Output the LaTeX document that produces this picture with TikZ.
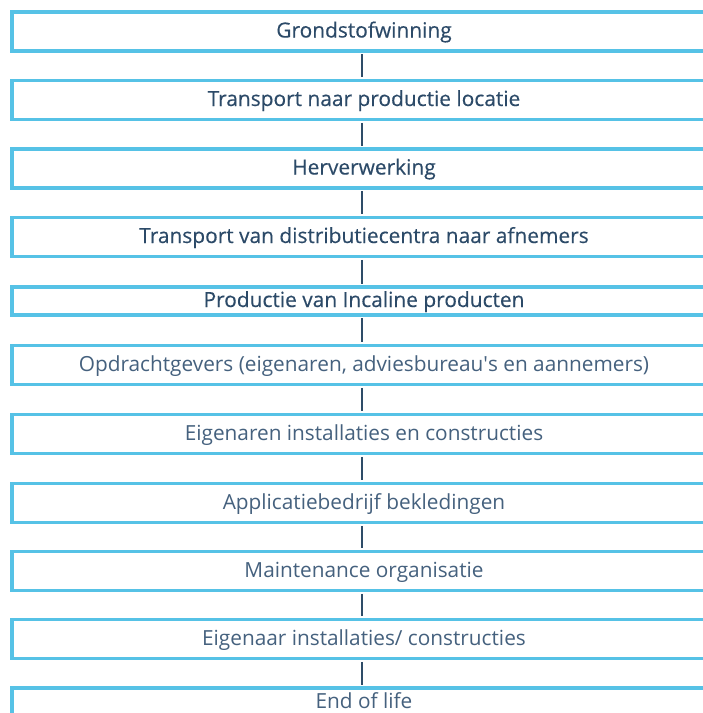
\documentclass[tikz,border=0pt]{standalone}
\usepackage{fontspec}
\setmainfont{Open Sans}
\newfontfamily\boldish[FakeBold=0.3]{Open Sans}
\definecolor{boxblue}{HTML}{56C2E6}
\definecolor{darktxt}{HTML}{2C4A68}
\definecolor{lighttxt}{HTML}{45617E}
\definecolor{linecol}{HTML}{2E4C68}
\begin{document}
\begin{tikzpicture}[x=1pt,y=-1pt,
  stage/.style={draw=boxblue,line width=3.3pt,fill=white,rectangle,
    minimum width=704pt,minimum height=39pt,inner sep=0pt,
    text height=15pt,text depth=3pt,
    font=\fontsize{20.8}{23}\selectfont,text=lighttxt},
  strong/.style={text=darktxt,font=\fontsize{20.9}{23}\selectfont\boldish},
  short/.style={minimum height=28pt},
  link/.style={draw=linecol,line width=2.2pt}]
\useasboundingbox (0,0) rectangle (703,713);
\clip (0,0) rectangle (703,713);
\node[stage,strong] (b1) at (364,31.5) {Grondstofwinning};
\node[stage,strong] (b2) at (364,100) {Transport naar productie locatie};
\node[stage,strong] (b3) at (364,168.5) {Herverwerking};
\node[stage,strong] (b4) at (364,237) {Transport van distributiecentra naar afnemers};
\node[stage,strong,short] (b5) at (364,301) {Productie van Incaline producten};
\node[stage] (b6) at (364,365) {Opdrachtgevers (eigenaren, adviesbureau\textquotesingle s en aannemers)};
\node[stage] (b7) at (364,434) {Eigenaren installaties en constructies};
\node[stage] (b8) at (364,503) {Applicatiebedrijf bekledingen};
\node[stage] (b9) at (364,571) {Maintenance organisatie};
\node[stage] (b10) at (364,639) {Eigenaar installaties/ constructies};
\node[stage,short] (b11) at (364,702) {End of life};
\foreach \a/\b in {b1/b2,b2/b3,b3/b4,b4/b5,b5/b6,b6/b7,b7/b8,b8/b9,b9/b10,b10/b11}
  \draw[link] ([xshift=-2pt,yshift=-1.65pt]\a.south) -- ([xshift=-2pt,yshift=1.65pt]\b.north);
\end{tikzpicture}
\end{document}
